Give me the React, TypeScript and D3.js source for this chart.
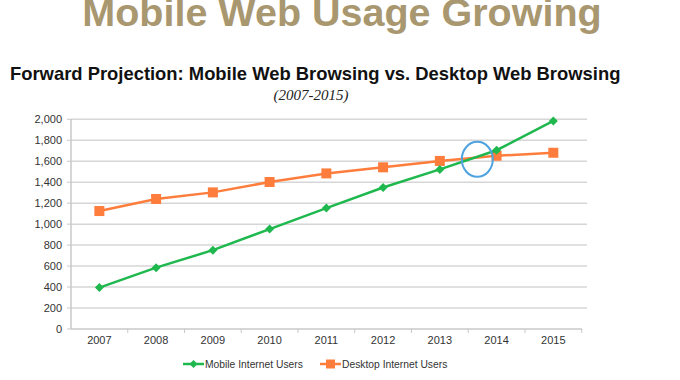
import React from "react";
import * as d3 from "d3";

const years = ["2007", "2008", "2009", "2010", "2011", "2012", "2013", "2014", "2015"];
const mobileUsers = [395, 585, 752, 953, 1153, 1350, 1522, 1705, 1984];
const desktopUsers = [1125, 1240, 1303, 1402, 1484, 1542, 1603, 1652, 1681];
const yTicks = [0, 200, 400, 600, 800, 1000, 1200, 1400, 1600, 1800, 2000];
const seriesNames = ["Mobile Internet Users", "Desktop Internet Users"];

const GREEN = "#1fb84e";
const ORANGE = "#ff7d3c";

export default function App() {
  const W = 680, H = 380;
  const x = d3.scaleBand<string>().domain(years).range([71, 581.7]).padding(0);
  const y = d3.scaleLinear().domain([0, 2000]).range([329, 119.3]);
  const cx = (d: string) => (x(d) as number) + x.bandwidth() / 2;
  const line = d3.line<number>().x((_, i) => cx(years[i])).y((v) => y(v));
  const fmt = d3.format(",");
  const sans = "'Liberation Sans', Arial, Helvetica, sans-serif";
  const diamond = (px: number, py: number, r: number) =>
    `M${px},${py - r}L${px + r},${py}L${px},${py + r}L${px - r},${py}Z`;

  // crossover annotation between 2013 and 2014
  const crossX = cx("2013") + 0.66 * x.bandwidth();
  const crossY = y((desktopUsers[6] + desktopUsers[7]) / 2) + 1;

  return (
    <svg width={W} height={H} style={{ position: "absolute", left: 0, top: 0, background: "#fff" }} fontFamily={sans}>
      <text x={342} y={26} textAnchor="middle" fontSize={39.5} fontWeight="bold" fill="#a8976f">
        Mobile Web Usage Growing
      </text>
      <text x={10} y={80} fontSize={18.4} fontWeight="bold" fill="#111">
        Forward Projection: Mobile Web Browsing vs. Desktop Web Browsing
      </text>
      <text x={311} y={100} textAnchor="middle" fontSize={15} fontStyle="italic" fill="#222" fontFamily="'Liberation Serif', 'Times New Roman', serif">
        (2007-2015)
      </text>

      {/* gridlines */}
      {yTicks.map((t) => (
        <g key={t}>
          {t > 0 && <line x1={71} x2={587} y1={y(t)} y2={y(t)} stroke="#d6d6d6" strokeWidth={1.5} />}
          <line x1={67} x2={71} y1={y(t)} y2={y(t)} stroke="#c8c8c8" strokeWidth={1} />
          <text x={62} y={y(t)} dy="0.35em" textAnchor="end" fontSize={11} fill="#333">
            {fmt(t)}
          </text>
        </g>
      ))}
      {/* axes */}
      <line x1={71} x2={71} y1={119} y2={329} stroke="#c8c8c8" strokeWidth={1.5} />
      <line x1={71} x2={582} y1={329} y2={329} stroke="#c8c8c8" strokeWidth={1.5} />
      {years.map((yr) => (
        <g key={yr}>
          <line x1={(x(yr) as number) + x.bandwidth()} x2={(x(yr) as number) + x.bandwidth()} y1={329} y2={333} stroke="#c8c8c8" strokeWidth={1} />
          <text x={cx(yr)} y={344} textAnchor="middle" fontSize={11} fill="#333">
            {yr}
          </text>
        </g>
      ))}

      {/* series */}
      <path d={line(desktopUsers) || ""} fill="none" stroke={ORANGE} strokeWidth={2.5} />
      {desktopUsers.map((v, i) => (
        <rect key={"d" + i} x={cx(years[i]) - 5} y={y(v) - 5} width={10} height={10} fill={ORANGE} />
      ))}
      <path d={line(mobileUsers) || ""} fill="none" stroke={GREEN} strokeWidth={2.5} />
      {mobileUsers.map((v, i) => (
        <path key={"m" + i} d={diamond(cx(years[i]), y(v), 4.5)} fill={GREEN} />
      ))}

      {/* highlight circle */}
      <ellipse cx={crossX} cy={crossY} rx={15.5} ry={17.5} fill="none" stroke="#4ea3e0" strokeWidth={2} />

      {/* legend */}
      <line x1={183} x2={204} y1={364} y2={364} stroke={GREEN} strokeWidth={2.5} />
      <path d={diamond(193.5, 364, 4)} fill={GREEN} />
      <text x={205} y={368} fontSize={10.3} fill="#333">{seriesNames[0]}</text>
      <line x1={320} x2={341} y1={364} y2={364} stroke={ORANGE} strokeWidth={2.5} />
      <rect x={326} y={359.5} width={9} height={9} fill={ORANGE} />
      <text x={342} y={368} fontSize={10.3} fill="#333">{seriesNames[1]}</text>
    </svg>
  );
}
